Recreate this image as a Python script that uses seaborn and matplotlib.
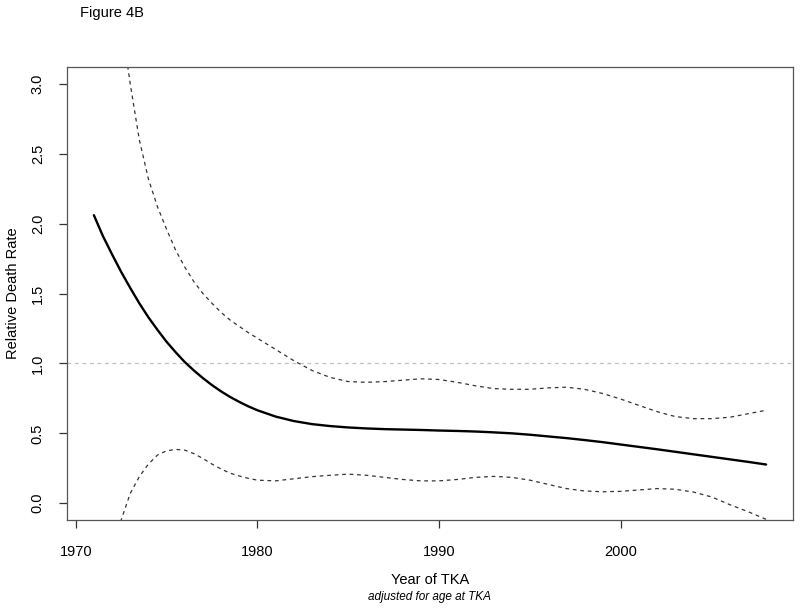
import numpy as np
import pandas as pd
import matplotlib
matplotlib.use("Agg")
import matplotlib.pyplot as plt
import seaborn as sns

# half-year steps early on, where the curves bend hard
years = [1971, 1971.5, 1972, 1972.5, 1973, 1973.5, 1974, 1974.5, 1975, 1975.5,
         1976, 1976.5, 1977, 1977.5, 1978, 1978.5, 1979, 1979.5, 1980] + list(range(1981, 2009))

rate = [2.06, 1.91, 1.78, 1.655, 1.54, 1.43, 1.33, 1.24, 1.155, 1.08,
        1.01, 0.95, 0.895, 0.845, 0.80, 0.76, 0.725, 0.693, 0.665,
        0.62, 0.588, 0.566, 0.552, 0.542, 0.535, 0.53, 0.527, 0.524, 0.52,
        0.517, 0.513, 0.507, 0.50, 0.49, 0.478, 0.466, 0.452, 0.437, 0.42,
        0.403, 0.386, 0.368, 0.35, 0.332, 0.314, 0.296, 0.277]

upper = [5.4, 4.6, 4.0, 3.45, 3.0, 2.6, 2.32, 2.12, 1.96, 1.81,
         1.69, 1.585, 1.50, 1.43, 1.365, 1.31, 1.265, 1.22, 1.18,
         1.10, 1.02, 0.95, 0.90, 0.87, 0.865, 0.87, 0.88, 0.89, 0.885,
         0.865, 0.84, 0.82, 0.815, 0.815, 0.825, 0.83, 0.815, 0.785, 0.745,
         0.70, 0.655, 0.62, 0.605, 0.605, 0.615, 0.64, 0.665]

lower = [-0.9, -0.6, -0.36, -0.12, 0.07, 0.19, 0.28, 0.345, 0.375, 0.385,
         0.38, 0.355, 0.32, 0.28, 0.245, 0.215, 0.195, 0.178, 0.165,
         0.16, 0.175, 0.19, 0.2, 0.208, 0.2, 0.185, 0.17, 0.16, 0.16,
         0.17, 0.185, 0.192, 0.185, 0.165, 0.135, 0.105, 0.088, 0.082, 0.085,
         0.095, 0.105, 0.1, 0.08, 0.045, -0.01, -0.06, -0.115]

x_ticks = [1970, 1980, 1990, 2000]
y_ticks = [0.0, 0.5, 1.0, 1.5, 2.0, 2.5, 3.0]

df = pd.DataFrame({"year": years, "rate": rate, "upper": upper, "lower": lower})

sns.set_theme(style="white")
plt.rcParams["font.family"] = ["Liberation Sans", "DejaVu Sans"]
plt.rcParams["text.color"] = "black"
plt.rcParams["xtick.color"] = "black"
plt.rcParams["ytick.color"] = "black"

fig = plt.figure(figsize=(8, 6.08), dpi=100)
ax = fig.add_axes([0.08375, 0.1447, 0.9075, 0.7451])

ax.axhline(1.0, color="#c0c0c0", lw=0.9, dashes=(3, 3))
sns.lineplot(data=df, x="year", y="upper", ax=ax, color="#333333", lw=0.9, dashes=(3, 3))
sns.lineplot(data=df, x="year", y="lower", ax=ax, color="#333333", lw=0.9, dashes=(3, 3))
sns.lineplot(data=df, x="year", y="rate", ax=ax, color="black", lw=1.7)

ax.set_xlim(1969.52, 2009.48)
ax.set_ylim(-0.12, 3.12)
ax.set_xticks(x_ticks)
ax.set_yticks(y_ticks)
ax.set_xticklabels([str(t) for t in x_ticks], fontsize=10.5)
ax.set_yticklabels([f"{t:.1f}" for t in y_ticks], fontsize=10.5, rotation=90, va="center")
ax.tick_params(axis="both", direction="out", length=6, width=0.9, color="#333333",
               labelcolor="black", bottom=True, left=True)
ax.tick_params(axis="x", pad=12)
ax.tick_params(axis="y", pad=10)
for s in ax.spines.values():
    s.set_color("#555555")
    s.set_linewidth(0.9)
ax.set_xlabel("")
ax.set_ylabel("")

fig.text(0.1, 0.978, "Figure 4B", fontsize=10.5, ha="left", va="center")
fig.text(0.5375, 0.046, "Year of TKA", fontsize=10.5, ha="center", va="center")
fig.text(0.5375, 0.018, "adjusted for age at TKA", fontsize=8.5, style="italic",
         ha="center", va="center")
fig.text(0.016, 0.517, "Relative Death Rate", fontsize=10.5, rotation=90,
         ha="center", va="center")

fig.savefig("out.png", dpi=100)
